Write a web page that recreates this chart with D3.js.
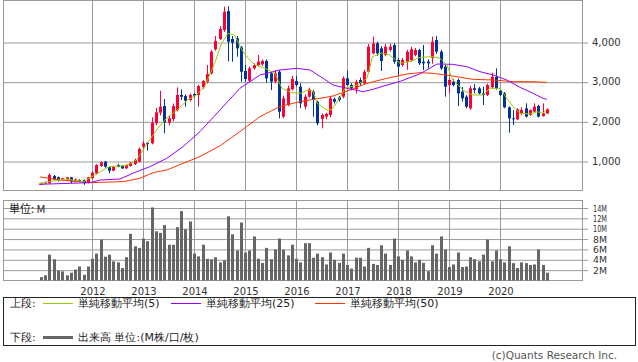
<!DOCTYPE html>
<html>
<head>
<meta charset="utf-8">
<script src="https://cdn.jsdelivr.net/npm/d3@7"></script>
<style>
  body { margin: 0; background: #fff; }
  svg text { font-family: "DejaVu Sans", sans-serif; }
  .jp { font-family: "Noto Sans CJK JP", sans-serif; }
</style>
</head>
<body>
<div id="chart"></div>
<script>
// monthly candles, Jan 2011 - Dec 2020
var months = d3.timeMonth.range(new Date(2011, 0, 1), new Date(2021, 0, 1));
var yearLabels = ["2012", "2013", "2014", "2015", "2016", "2017", "2018", "2019", "2020"];
var priceTicks = [1000, 2000, 3000, 4000];
var volTicks = [2, 4, 6, 8, 10, 12, 14];

var opens = [420, 440, 438, 622, 590, 522, 540, 590, 480, 522, 522, 454,
  565, 690, 875, 983, 842, 756, 900, 882, 816, 875, 925, 983,
  1361, 1462, 1446, 1950, 2218, 2386, 1966, 2059, 2286, 2664, 2638, 2538,
  2689, 2664, 2857, 2999, 3210, 3815, 4075, 4302, 4780, 4075, 4092, 3865,
  3269, 3025, 3336, 3420, 3437, 3521, 3210, 3000, 3252, 2118, 2412, 2807,
  3017, 2874, 2370, 2622, 2748, 2496, 2059, 2118, 2160, 2563, 2605, 2622,
  3084, 2916, 2807, 3042, 2958, 3252, 3714, 3966, 3840, 3672, 3798, 3924,
  3546, 3420, 3504, 3546, 3672, 3798, 3504, 3504, 3600, 4050, 3756, 3378,
  2916, 3000, 3042, 2748, 2622, 2328, 2832, 2832, 2706, 2664, 2857, 3126,
  2773, 2706, 2353, 2076, 2051, 2185, 2328, 2160, 2244, 2387, 2135, 2202];
var highs = [440, 480, 690, 650, 610, 580, 600, 600, 560, 540, 530, 600,
  730, 920, 990, 1000, 860, 880, 930, 900, 920, 980, 1060, 1340,
  1500, 1480, 2100, 2336, 2772, 2563, 2150, 2450, 2857, 2807, 2680, 2700,
  2720, 2920, 3040, 3420, 3800, 4150, 4400, 4890, 4900, 4150, 4150, 3900,
  3420, 3380, 3460, 3672, 3560, 3560, 3250, 3294, 3290, 2650, 2900, 3150,
  3143, 2960, 2680, 2850, 2790, 2520, 2200, 2220, 2620, 2600, 2640, 3130,
  3277, 2960, 3050, 3100, 3300, 3950, 4134, 4008, 3900, 3950, 3960, 3970,
  3600, 3600, 3800, 3880, 3850, 3830, 3924, 3560, 4134, 4150, 3800, 3420,
  3100, 3060, 3080, 2870, 2660, 2900, 2941, 2870, 2874, 2950, 3227, 3336,
  2800, 2740, 2380, 2286, 2330, 2353, 2454, 2300, 2454, 2420, 2454, 2328];
var lows = [400, 430, 430, 520, 480, 500, 520, 440, 460, 470, 400, 440,
  550, 660, 850, 830, 690, 740, 840, 800, 800, 860, 900, 960,
  1300, 1260, 1420, 1900, 2150, 1698, 1900, 2000, 2250, 2538, 2369, 2500,
  2600, 2369, 2820, 2960, 3180, 3780, 4050, 4250, 3510, 3503, 3630, 3000,
  3000, 2990, 3300, 3380, 3400, 2975, 2790, 2960, 2076, 2080, 2380, 2780,
  2880, 2330, 2300, 2600, 2118, 1900, 1824, 2050, 2100, 2450, 2500, 2580,
  2900, 2780, 2700, 2900, 2930, 3220, 3690, 3650, 3269, 3640, 3760, 3450,
  3168, 3380, 3300, 3500, 3640, 3420, 3294, 3336, 3450, 3700, 3294, 2622,
  2706, 2880, 2387, 2500, 2330, 2290, 2706, 2680, 2412, 2640, 2820, 2800,
  2640, 2330, 1715, 1908, 2030, 2160, 2100, 2140, 2220, 2100, 2118, 2185];
var closes = [430, 460, 648, 540, 504, 565, 590, 480, 540, 480, 440, 590,
  706, 900, 968, 857, 756, 857, 857, 816, 900, 958, 1026, 1303,
  1446, 1429, 1966, 2228, 2369, 1975, 2076, 2386, 2664, 2621, 2520, 2664,
  2646, 2890, 3016, 3193, 3755, 4025, 4327, 4763, 4007, 3982, 3840, 3250,
  3067, 3336, 3420, 3504, 3521, 3084, 3000, 3210, 2244, 2580, 2832, 3067,
  2916, 2454, 2622, 2807, 2538, 1950, 2160, 2185, 2580, 2496, 2538, 3084,
  2916, 2832, 3000, 2958, 3252, 3882, 3966, 3714, 3521, 3882, 3882, 3504,
  3378, 3546, 3756, 3815, 3798, 3462, 3462, 3462, 4008, 3756, 3336, 2874,
  3042, 2916, 2706, 2580, 2370, 2832, 2790, 2706, 2664, 2916, 3126, 2832,
  2664, 2353, 2076, 2051, 2303, 2286, 2118, 2286, 2370, 2118, 2202, 2303];
// volume, millions
var volumes = [0.65, 1.0, 5.0, 4.1, 1.9, 1.75, 1.0, 1.5, 2.1, 2.7, 1.1, 2.7,
  4.2, 5.2, 7.9, 4.6, 5.0, 3.7, 3.5, 2.4, 4.5, 9.0, 6.6, 6.3,
  8.1, 7.6, 14.1, 9.5, 9.2, 10.7, 6.9, 6.9, 10.3, 13.4, 9.9, 11.4,
  5.2, 4.65, 6.9, 4.2, 4.1, 4.5, 3.5, 3.9, 12.4, 8.9, 5.8, 11.2,
  5.4, 5.8, 8.5, 4.2, 3.4, 6.3, 4.1, 6.0, 8.1, 5.95, 4.85, 6.9,
  4.2, 3.5, 7.2, 7.2, 4.4, 5.2, 4.5, 3.1, 5.4, 4.0, 3.4, 5.2,
  3.0, 2.3, 4.4, 4.4, 2.7, 6.3, 3.2, 3.0, 6.8, 5.2, 3.0, 8.1,
  4.65, 4.0, 5.8, 4.65, 3.5, 4.0, 3.4, 1.8, 6.8, 5.2, 8.5, 6.0,
  2.6, 3.1, 5.4, 2.6, 2.7, 4.5, 4.1, 3.7, 5.0, 7.9, 3.7, 5.8,
  4.1, 3.5, 6.6, 3.35, 2.4, 3.5, 3.35, 3.0, 3.1, 6.0, 3.0, 1.5];

// moving averages: [month index, value]
var ma5 = [[-0.5, 438], [6, 547], [10, 480], [12, 606], [16, 858], [20, 883], [22.5, 1026],
  [25, 1446], [27.5, 1824], [29.5, 2076], [32, 2286], [34.5, 2538], [36.5, 2664], [38.5, 2874],
  [41, 3504], [42.5, 3966], [44, 4218], [45.5, 4176], [47.3, 3798], [48.7, 3588], [50.4, 3420],
  [52.7, 3336], [55, 3210], [56.7, 2832], [59, 2723], [61, 2706], [63, 2790], [64, 2760],
  [65, 2454], [67.3, 2286], [68.5, 2300], [70, 2538], [71.5, 2832], [74.4, 2916], [76.7, 3084],
  [78, 3630], [80.2, 3720], [82, 3672], [84.5, 3462], [86.8, 3504], [89.2, 3613], [92.2, 3630],
  [93.9, 3588], [95.5, 3420], [96.9, 3042], [99.3, 2790], [101.6, 2664], [104, 2664],
  [105.6, 2832], [108, 2832], [109.6, 2580], [111.1, 2370], [112.7, 2202], [115.1, 2185],
  [116.7, 2244], [118.1, 2202], [119, 2303]];
var ma25 = [[-0.5, 413], [11.5, 455], [14, 522], [18.6, 547], [21.6, 690], [25.6, 858],
  [29.6, 1068], [33.4, 1362], [37.4, 1740], [42.1, 2286], [46.8, 2832], [51.5, 3168],
  [56.2, 3294], [60.2, 3336], [63.3, 3294], [66.4, 3084], [68.7, 2916], [72, 2832],
  [75.8, 2748], [78.1, 2807], [81.4, 2916], [84.5, 3008], [89.2, 3200], [93.2, 3445],
  [96.9, 3437], [100.2, 3378], [103.3, 3252], [106.4, 3168], [109.6, 3042], [112.7, 2857],
  [115.8, 2706], [118.1, 2580], [119, 2555]];
var ma50 = [[-0.2, 600], [4.5, 522], [11.5, 455], [19.3, 480], [23.3, 564], [26.4, 707],
  [29.6, 774], [34.4, 984], [37.4, 1110], [42.1, 1383], [46.8, 1740], [51.5, 2118],
  [56.2, 2370], [60.9, 2496], [65.6, 2580], [68.7, 2639], [72.7, 2790], [76.7, 2958],
  [81.4, 3084], [86.1, 3193], [89.2, 3227], [92.2, 3210], [96.9, 3143], [101.6, 3059],
  [106.4, 3042], [111.1, 3000], [115.8, 3000], [119, 2983]];

var upColor = '#ff0033', downColor = '#003399';
var gridColor = '#999';

var svg = d3.select('#chart').append('svg')
  .attr('width', 638).attr('height', 362);

var left = 3, right = 582;
var top1 = 0.5, bottom1 = 190.5;
var top2 = 200.5, bottom2 = 280.5;

var x = d3.scaleLinear().domain([0, months.length - 1]).range([41, 546.75]);
var y = d3.scaleLinear().domain([0, 4000]).range([200.7, 42]);
var yv = d3.scaleLinear().domain([0, 14]).range([280.5, 208]);

// year gridlines (January of each year)
var yearIdx = yearLabels.map(function(yr) {
  return months.findIndex(function(m) { return m.getFullYear() == +yr && m.getMonth() == 0; });
});

// ---- upper panel ----
var pAxis = d3.axisRight(y).tickValues(priceTicks).tickSize(right - left + 6)
  .tickPadding(4).tickFormat(d3.format(','));
var pg = svg.append('g').attr('transform', 'translate(' + left + ',0)').call(pAxis);
pg.select('.domain').remove();
pg.selectAll('line').attr('stroke', gridColor).attr('transform', 'translate(0,0.5)');
pg.selectAll('text').attr('font-size', 10).attr('fill', '#333')
  .attr('font-family', 'DejaVu Sans');

svg.append('g').selectAll('line').data(yearIdx).enter().append('line')
  .attr('x1', d => Math.round(x(d)) + 0.5).attr('x2', d => Math.round(x(d)) + 0.5)
  .attr('y1', top1).attr('y2', bottom1).attr('stroke', gridColor);

svg.append('rect').attr('x', left + 0.5).attr('y', top1)
  .attr('width', right - left).attr('height', bottom1 - top1)
  .attr('fill', 'none').attr('stroke', gridColor);

svg.append('clipPath').attr('id', 'clip1').append('rect')
  .attr('x', left + 1).attr('y', 1).attr('width', right - left - 1).attr('height', 189);

var plot = svg.append('g').attr('clip-path', 'url(#clip1)');
var idx = d3.range(months.length);

plot.selectAll('.wick').data(idx).enter().append('line')
  .attr('x1', i => Math.round(x(i)) + 0.5).attr('x2', i => Math.round(x(i)) + 0.5)
  .attr('y1', i => y(highs[i])).attr('y2', i => y(lows[i]))
  .attr('stroke', i => closes[i] >= opens[i] ? upColor : downColor);

plot.selectAll('.body').data(idx).enter().append('rect')
  .attr('x', i => Math.round(x(i)) - 1)
  .attr('y', i => y(Math.max(opens[i], closes[i])))
  .attr('width', 3)
  .attr('height', i => Math.max(1, Math.abs(y(opens[i]) - y(closes[i]))))
  .attr('fill', i => closes[i] >= opens[i] ? upColor : downColor);

var line = d3.line().x(d => x(d[0])).y(d => y(d[1]));
[[ma50, '#ff3300'], [ma25, '#9900ff'], [ma5, '#99cc00']].forEach(function(s) {
  plot.append('path').datum(s[0]).attr('d', line)
    .attr('fill', 'none').attr('stroke', s[1]).attr('stroke-width', 1);
});

// ---- lower panel (volume) ----
var vAxis = d3.axisRight(yv).tickValues(volTicks).tickSize(right - left + 6)
  .tickPadding(5).tickFormat(d => d + 'M');
var vg = svg.append('g').attr('transform', 'translate(' + left + ',0)').call(vAxis);
vg.select('.domain').remove();
vg.selectAll('line').attr('stroke', gridColor);
vg.selectAll('text').attr('font-size', 9.5).attr('fill', '#333')
  .attr('textLength', 14).attr('lengthAdjust', 'spacingAndGlyphs');

svg.append('g').selectAll('line').data(yearIdx).enter().append('line')
  .attr('x1', d => Math.round(x(d)) + 0.5).attr('x2', d => Math.round(x(d)) + 0.5)
  .attr('y1', top2).attr('y2', bottom2).attr('stroke', gridColor);

svg.append('rect').attr('x', left + 0.5).attr('y', top2)
  .attr('width', right - left).attr('height', bottom2 - top2)
  .attr('fill', 'none').attr('stroke', gridColor);

svg.append('g').selectAll('rect').data(idx).enter().append('rect')
  .attr('x', i => Math.round(x(i)) - 1)
  .attr('y', i => yv(volumes[i]))
  .attr('width', 3)
  .attr('height', i => yv(0) - yv(volumes[i]))
  .attr('fill', '#666');

svg.append('text').attr('class', 'jp').attr('x', 9).attr('y', 213)
  .attr('font-size', 11).attr('fill', '#222').text('単位: M');

// year labels
svg.append('g').selectAll('text').data(yearLabels).enter().append('text')
  .attr('x', (d, k) => x(yearIdx[k]) + 1).attr('y', 295)
  .attr('text-anchor', 'middle').attr('font-size', 10).attr('fill', '#333')
  .text(d => d);

// ---- legend ----
svg.append('rect').attr('x', 3.5).attr('y', 297.5).attr('width', 632).attr('height', 48)
  .attr('fill', 'none').attr('stroke', '#222');

var lg = svg.append('g').attr('class', 'jp').attr('font-size', 11).attr('fill', '#222');
lg.append('text').attr('x', 10).attr('y', 307).text('上段:');
lg.append('text').attr('x', 10).attr('y', 341).text('下段:');

var legendItems = [
  { x: 43, color: '#99cc00', label: '単純移動平均(5)' },
  { x: 171, color: '#9900ff', label: '単純移動平均(25)' },
  { x: 315, color: '#ff3300', label: '単純移動平均(50)' }
];
legendItems.forEach(function(it) {
  svg.append('line').attr('x1', it.x).attr('x2', it.x + 30).attr('y1', 303.5).attr('y2', 303.5)
    .attr('stroke', it.color);
  lg.append('text').attr('x', it.x + 35).attr('y', 307).text(it.label);
});
svg.append('line').attr('x1', 43).attr('x2', 73).attr('y1', 337.5).attr('y2', 337.5)
  .attr('stroke', '#666').attr('stroke-width', 3);
lg.append('text').attr('x', 78).attr('y', 341).text('出来高 単位:(M株/口/枚)');

svg.append('text').attr('x', 617).attr('y', 359).attr('text-anchor', 'end')
  .attr('font-family', 'Liberation Sans').attr('font-size', 10.5).attr('fill', '#555')
  .text('(c)Quants Research Inc.');
</script>
</body>
</html>
